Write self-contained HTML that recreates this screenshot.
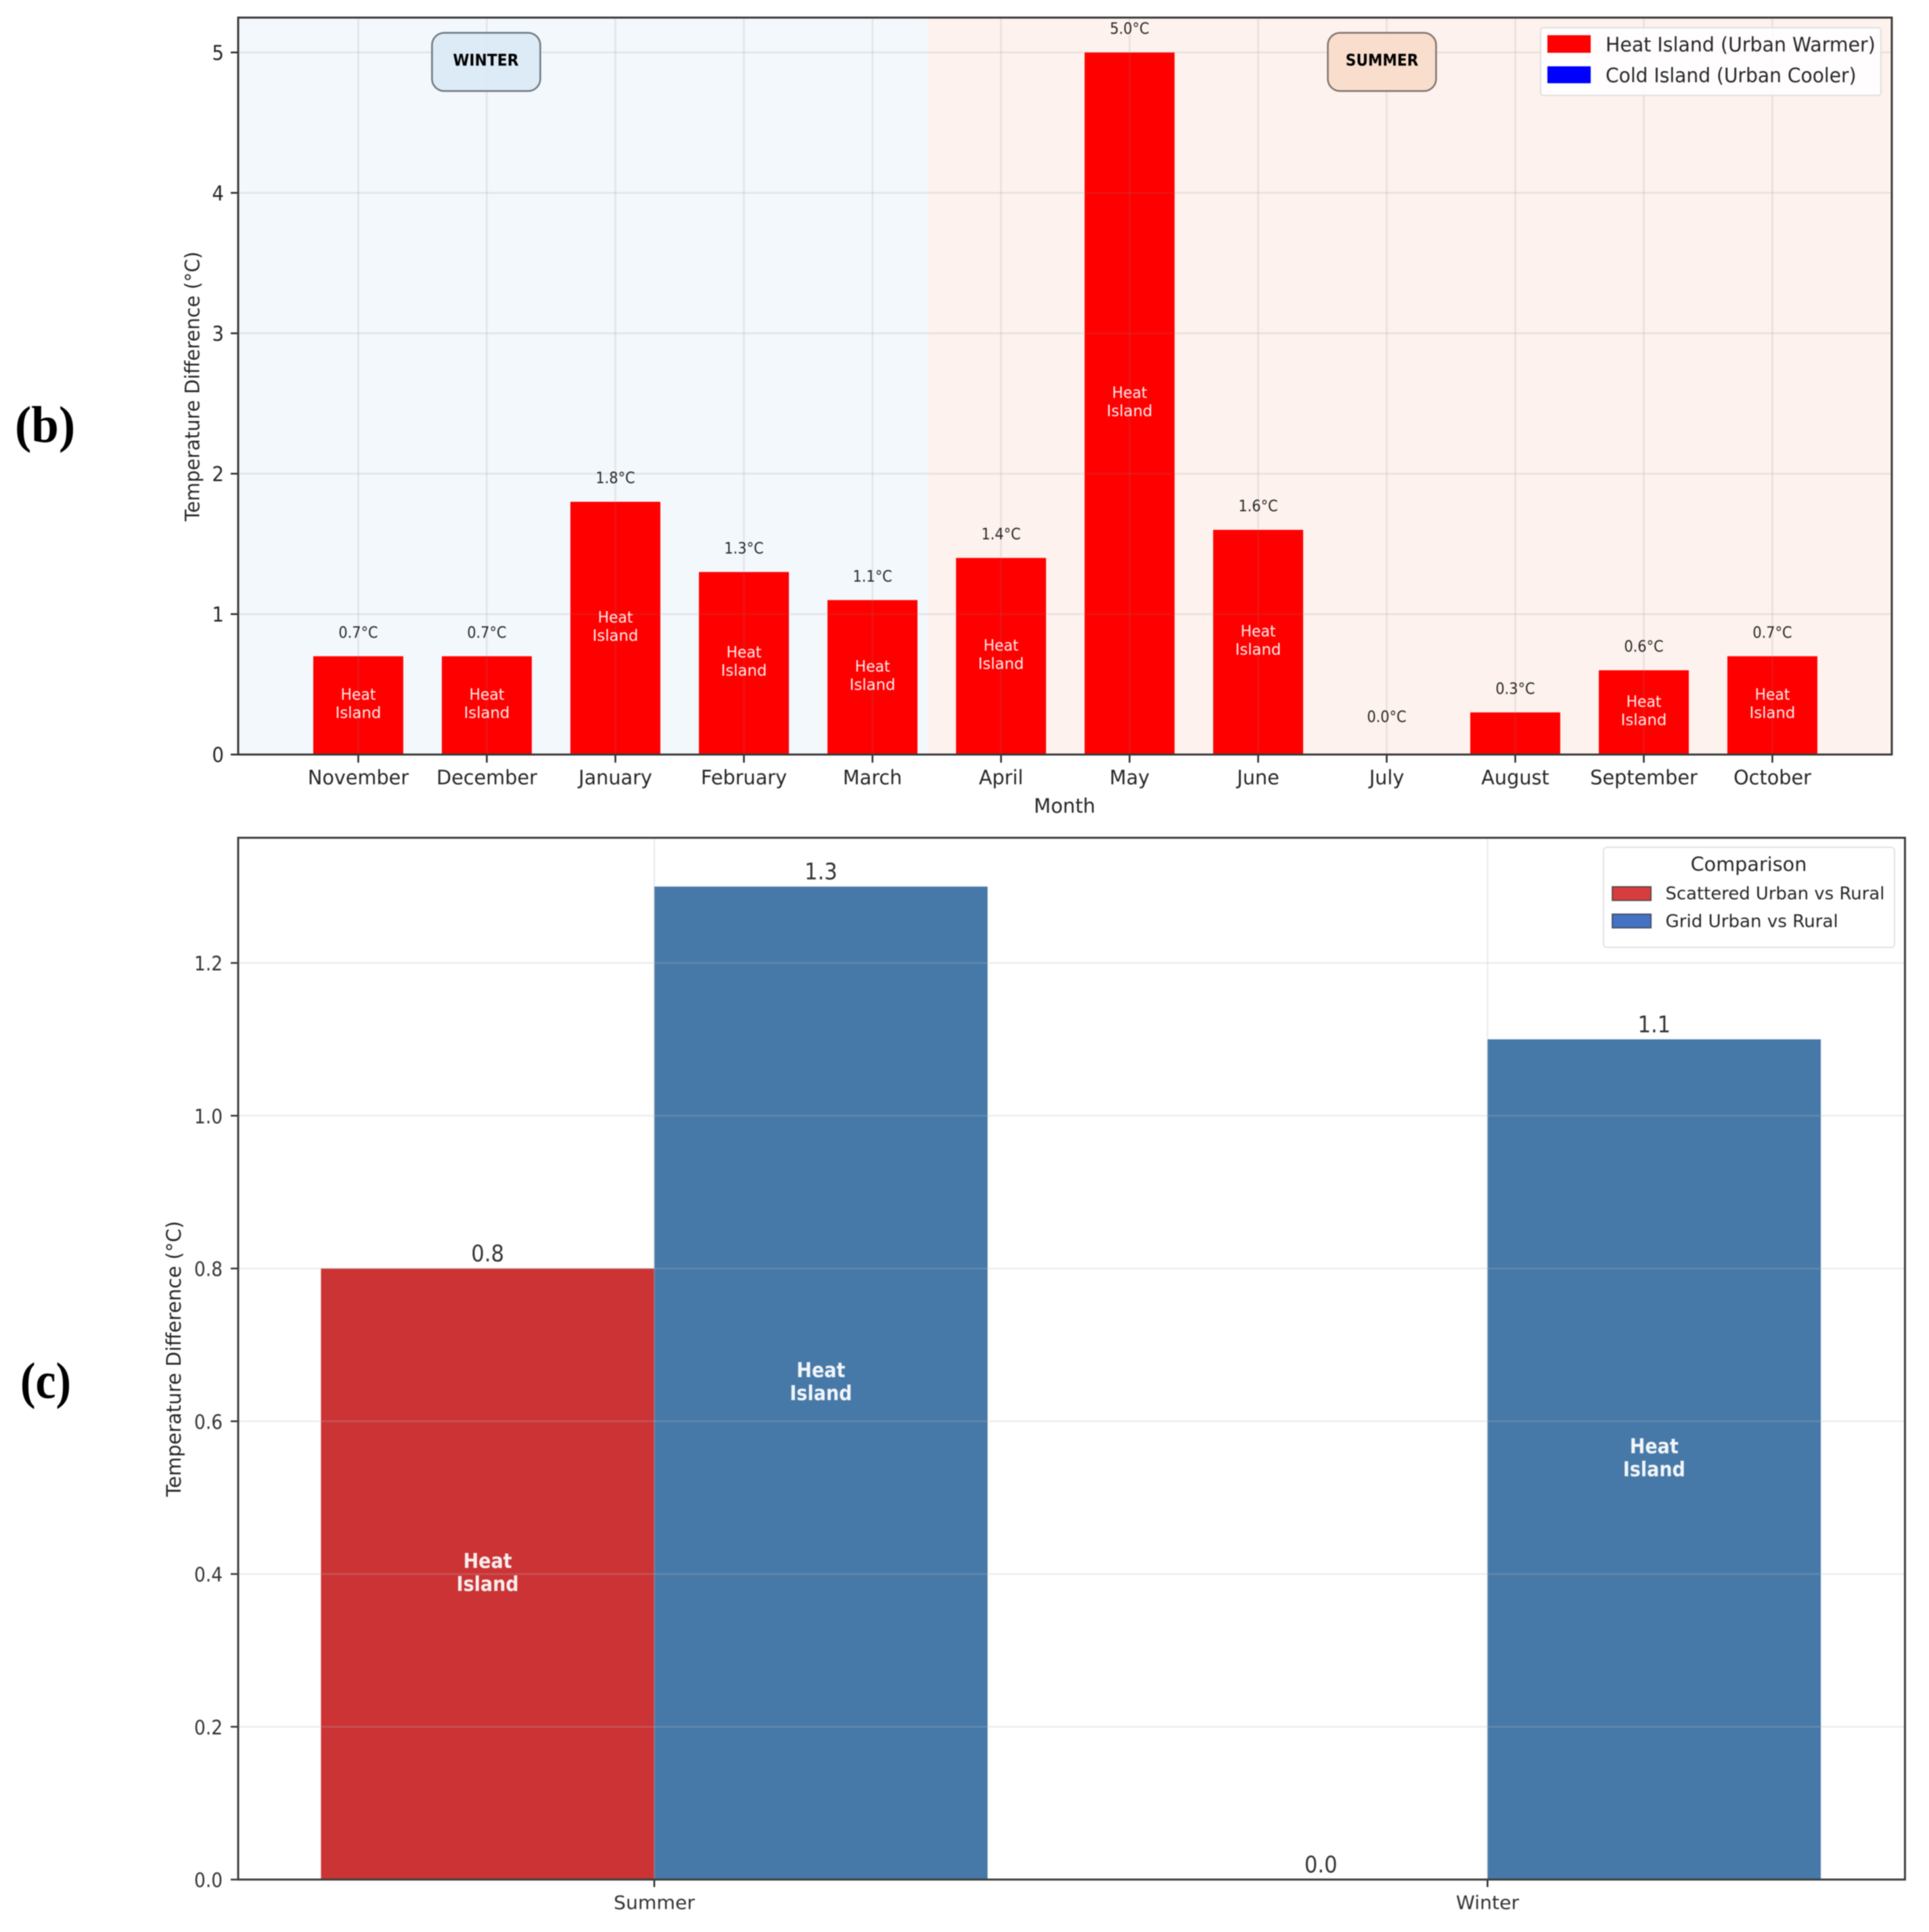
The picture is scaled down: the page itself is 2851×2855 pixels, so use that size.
<!DOCTYPE html>
<html lang="en">
<head>
<meta charset="utf-8">
<title>Urban heat island temperature differences</title>
<style>
html,body{margin:0;padding:0;background:#fff;}
svg{display:block;filter:blur(0.7px);}
text{font-family:"DejaVu Sans","Liberation Sans",sans-serif;fill:#262626;}
.panel{font-family:"Liberation Serif",serif;font-weight:700;fill:#000;}
</style>
</head>
<body>
<svg id="figure" xmlns="http://www.w3.org/2000/svg" width="2851" height="2855" viewBox="0 0 2851 2855">
  <rect x="0" y="0" width="2851" height="2855" fill="#ffffff"/>

  <text class="panel" font-size="76" transform="translate(22 653) scale(.96 1)">(b)</text>
  <text class="panel" font-size="76" transform="translate(30 2066) scale(.89 1)">(c)</text>

  <g id="monthly-chart">
    <g id="b-back"></g>
    <g id="b-bars"></g>
    <g id="b-grid"></g>
    <g id="b-axes"></g>
    <g id="b-labels"></g>

    <g>
      <rect x="638.5" y="48.5" width="160" height="86" rx="18" fill="#dbeaf7" fill-opacity=".95" stroke="#6c7780" stroke-width="2.5"/>
      <text font-size="24" font-weight="700" text-anchor="middle" style="fill:#000" transform="translate(718 97) scale(.91 1)">WINTER</text>
    </g>
    <g>
      <rect x="1962.5" y="48.5" width="160" height="86" rx="18" fill="#f9dccb" fill-opacity=".95" stroke="#7d736d" stroke-width="2.5"/>
      <text font-size="24" font-weight="700" text-anchor="middle" style="fill:#000" transform="translate(2042.5 97) scale(.9 1)">SUMMER</text>
    </g>

    <g>
      <rect x="2277" y="41" width="503" height="100" rx="4" fill="#ffffff" fill-opacity=".85" stroke="#dfdfdf" stroke-width="2"/>
      <rect x="2287" y="52" width="64" height="26" fill="#ff0000"/>
      <text font-size="29" transform="translate(2373 76) scale(.98 1)">Heat Island (Urban Warmer)</text>
      <rect x="2287" y="98" width="64" height="25" fill="#0000ff"/>
      <text font-size="29" transform="translate(2373 121.5) scale(.97 1)">Cold Island (Urban Cooler)</text>
    </g>

    <text font-size="29" text-anchor="middle" transform="translate(294.5 571) rotate(-90) scale(.975 1)">Temperature Difference (°C)</text>
    <text font-size="29" text-anchor="middle" transform="translate(1573.5 1201)">Month</text>
  </g>

  <g id="seasonal-chart">
    <g id="c-bars"></g>
    <g id="c-grid"></g>
    <g id="c-axes"></g>
    <g id="c-labels"></g>

    <g>
      <rect x="2370" y="1252" width="430" height="148" rx="5" fill="#ffffff" fill-opacity=".85" stroke="#e2e2e2" stroke-width="2"/>
      <text font-size="28.7" text-anchor="middle" transform="translate(2584.5 1287)">Comparison</text>
      <rect x="2383" y="1310.5" width="57" height="20" fill="#d93c3c" stroke="#5d4a4a" stroke-width="2"/>
      <text font-size="26" transform="translate(2461.5 1329) scale(.996 1)">Scattered Urban vs Rural</text>
      <rect x="2383" y="1351" width="57" height="20" fill="#4472c4" stroke="#40506a" stroke-width="2"/>
      <text font-size="26" transform="translate(2461.5 1370) scale(1.005 1)">Grid Urban vs Rural</text>
    </g>

    <text font-size="28.9" text-anchor="middle" transform="translate(267 2008) rotate(-90)">Temperature Difference (°C)</text>
  </g>
</svg>

<script>
// ---- Monthly chart data (panel b) ----
const months = ['November','December','January','February','March','April','May','June','July','August','September','October'];
const monthlyDiffs = [0.7, 0.7, 1.8, 1.3, 1.1, 1.4, 5.0, 1.6, 0.0, 0.3, 0.6, 0.7];
const monthlyYTicks = [0, 1, 2, 3, 4, 5];
const winterEndIndex = 4.43;

// ---- Seasonal chart data (panel c) ----
const seasons = ['Summer', 'Winter'];
const scatteredDiffs = [0.8, 0.0];
const gridDiffs = [1.3, 1.1];
const seasonalYTicks = [0.0, 0.2, 0.4, 0.6, 0.8, 1.0, 1.2];

// ---- Axis functions ----
const bPlot = {left: 352, right: 2796, top: 26, bottom: 1115};
const cPlot = {left: 352, right: 2815.5, top: 1238, bottom: 2777.5};
const xB = i => 529.5 + 190 * i;
const yB = v => 1115 - 207.5 * v;
const xC = i => 967 + 1231.5 * i;
const yC = v => 2777.5 - 1128.75 * v;
const monthBarWidth = 0.7;
const seasonBarWidth = 0.4;

const NS = 'http://www.w3.org/2000/svg';
const $ = id => document.getElementById(id);

function rect(parent, x, y, w, h, fill) {
  const el = document.createElementNS(NS, 'rect');
  el.setAttribute('x', x);
  el.setAttribute('y', y);
  el.setAttribute('width', w);
  el.setAttribute('height', h);
  el.setAttribute('fill', fill);
  parent.appendChild(el);
  return el;
}
function line(parent, x1, y1, x2, y2, stroke, width, opacity) {
  const el = document.createElementNS(NS, 'line');
  el.setAttribute('x1', x1);
  el.setAttribute('y1', y1);
  el.setAttribute('x2', x2);
  el.setAttribute('y2', y2);
  el.setAttribute('stroke', stroke);
  el.setAttribute('stroke-width', width);
  if (opacity !== undefined) el.setAttribute('stroke-opacity', opacity);
  parent.appendChild(el);
  return el;
}
function label(parent, x, y, str, size, anchor, sx, color, weight) {
  const el = document.createElementNS(NS, 'text');
  el.setAttribute('font-size', size);
  el.setAttribute('text-anchor', anchor);
  el.setAttribute('transform', 'translate(' + x + ' ' + y + ') scale(' + sx + ' 1)');
  if (color) el.style.fill = color;
  if (weight) el.setAttribute('font-weight', weight);
  el.textContent = str;
  parent.appendChild(el);
  return el;
}

// ---- Panel b ----
const splitX = xB(winterEndIndex);
const winterBg = rect($('b-back'), bPlot.left, bPlot.top, splitX - bPlot.left, bPlot.bottom - bPlot.top, '#f3f8fc');


const summerBg = rect($('b-back'), splitX, bPlot.top, bPlot.right - splitX, bPlot.bottom - bPlot.top, '#fdf2ed');



months.forEach((m, i) => {
  const v = monthlyDiffs[i];
  const half = 190 * monthBarWidth / 2;
  const bar = rect($('b-bars'), xB(i) - half, yB(v), half * 2, yB(0) - yB(v), '#ff0000');
  
  

  const gv = line($('b-grid'), xB(i), bPlot.top, xB(i), bPlot.bottom, '#808080', 2.5, 0.16);
  
  

  const tick = line($('b-axes'), xB(i), bPlot.bottom, xB(i), bPlot.bottom + 12, '#262626', 2.5);
  
  

  const tl = label($('b-axes'), xB(i), 1159, m, 29, 'middle', 0.99);
  
  

  const labelY = yB(v) - (v > 0 ? 27.5 : 48);
  const vl = label($('b-labels'), xB(i), labelY, v.toFixed(1) + '°C', 23, 'middle', 0.91);
  
  

  if (v >= 0.5) {
    const mid = yB(v / 2);
    const l1 = label($('b-labels'), xB(i), mid - 8.5, 'Heat', 23, 'middle', 0.95, '#fff0f0');
    
    
    const l2 = label($('b-labels'), xB(i), mid + 18.5, 'Island', 23, 'middle', 0.99, '#fff0f0');
    
    
  }
});

monthlyYTicks.forEach(t => {
  const gh = line($('b-grid'), bPlot.left, yB(t), bPlot.right, yB(t), '#808080', 2.5, 0.16);
  
  
  const tk = line($('b-axes'), bPlot.left - 11, yB(t), bPlot.left, yB(t), '#262626', 2.5);
  
  
  const tl = label($('b-axes'), 331, yB(t) + 11, String(t), 30, 'end', 0.92);
  
  
});

const bFrame = rect($('b-axes'), bPlot.left, bPlot.top, bPlot.right - bPlot.left, bPlot.bottom - bPlot.top, 'none');
bFrame.setAttribute('stroke', '#3a3a3a');
bFrame.setAttribute('stroke-width', '3');



// ---- Panel c ----
seasons.forEach((s, i) => {
  const w = 1231.5 * seasonBarWidth;
  const key = s.toLowerCase();

  const barA = rect($('c-bars'), xC(i) - w, yC(scatteredDiffs[i]), w, yC(0) - yC(scatteredDiffs[i]), '#cb3335');
  
  
  const barB = rect($('c-bars'), xC(i), yC(gridDiffs[i]), w, yC(0) - yC(gridDiffs[i]), '#4679a8');
  
  

  const gv = line($('c-grid'), xC(i), cPlot.top, xC(i), cPlot.bottom, '#b8b8b8', 2.5, 0.25);
  
  

  const tk = line($('c-axes'), xC(i), cPlot.bottom, xC(i), cPlot.bottom + 11, '#262626', 2.5);
  
  
  const tl = label($('c-axes'), xC(i), 2821, s, 28, 'middle', 1.01, '#333333');
  
  

  const vA = label($('c-labels'), xC(i) - w / 2, yC(scatteredDiffs[i]) - 10.5, scatteredDiffs[i].toFixed(1), 34, 'middle', 0.9, '#333333');
  
  
  const vB = label($('c-labels'), xC(i) + w / 2, yC(gridDiffs[i]) - 10.5, gridDiffs[i].toFixed(1), 34, 'middle', 0.9, '#333333');
  
  

  if (scatteredDiffs[i] > 0) {
    const mid = yC(scatteredDiffs[i] / 2);
    const a1 = label($('c-labels'), xC(i) - w / 2, mid - 9, 'Heat', 30, 'middle', 0.9, '#f6eeee', 700);
    
    
    const a2 = label($('c-labels'), xC(i) - w / 2, mid + 25, 'Island', 30, 'middle', 0.9, '#f6eeee', 700);
    
    
  }
  if (gridDiffs[i] > 0) {
    const mid = yC(gridDiffs[i] / 2);
    const b1 = label($('c-labels'), xC(i) + w / 2, mid - 9, 'Heat', 30, 'middle', 0.9, '#f2f5f9', 700);
    
    
    const b2 = label($('c-labels'), xC(i) + w / 2, mid + 25, 'Island', 30, 'middle', 0.9, '#f2f5f9', 700);
    
    
  }
});

seasonalYTicks.forEach(t => {
  const key = t.toFixed(1);
  const gh = line($('c-grid'), cPlot.left, yC(t), cPlot.right, yC(t), '#b8b8b8', 2.5, 0.25);
  
  
  const tk = line($('c-axes'), cPlot.left - 11, yC(t), cPlot.left, yC(t), '#333333', 2.5);
  
  
  const tl = label($('c-axes'), 329, yC(t) + 11, key, 29, 'end', 0.91, '#333333');
  
  
});

const cFrame = rect($('c-axes'), cPlot.left, cPlot.top, cPlot.right - cPlot.left, cPlot.bottom - cPlot.top, 'none');
cFrame.setAttribute('stroke', '#3f3f3f');
cFrame.setAttribute('stroke-width', '3');


</script>
</body>
</html>
